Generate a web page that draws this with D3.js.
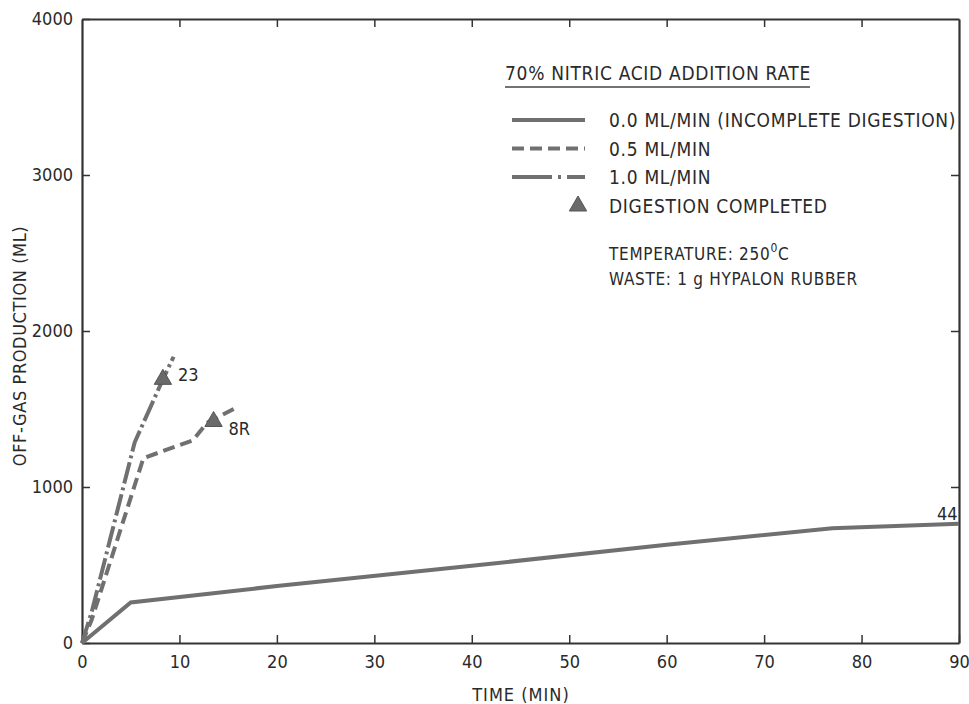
<!DOCTYPE html>
<html lang="en">
<head>
  <meta charset="UTF-8">
  <title>Off-gas production vs time</title>
  <style>
    body { margin: 0; background: #fff; }
    svg { display: block; background: #fff; }
    text {
      font-family: "Liberation Sans Narrow", "DejaVu Sans Condensed", sans-serif;
      fill: #2a2a2a;
    }
    .axis path, .axis line { stroke: #333; }
    .axis text { font-size: 18px; }
    .leg { font-size: 19px; letter-spacing: 0.7px; }
  </style>
</head>
<body>
  <svg id="chart" width="969" height="704"></svg>
  <script src="https://d3js.org/d3.v7.min.js"></script>
  <script>
    // values
    const xTicks = [0, 10, 20, 30, 40, 50, 60, 70, 80, 90]
    const yTicks = [0, 1000, 2000, 3000, 4000]

    const time00 = [0, 5, 20, 40, 60, 77, 90]
    const gas00 = [0, 260, 365, 495, 630, 735, 765]

    const time05 = [0, 1, 6.3, 11.4, 12.8, 15.7]
    const gas05 = [0, 150, 1185, 1300, 1410, 1505]

    const time10 = [0, 1, 5.4, 8.3, 9.4]
    const gas10 = [0, 200, 1285, 1690, 1835]

    const doneTime = [8.3, 13.5]
    const doneGas = [1690, 1420]
    const doneLabel = ['23', '8R']

    const endLabel = { t: 88.8, v: 790, text: '44' }

    const svg = d3.select('#chart')
    const x = d3.scaleLinear().domain([0, 90]).range([82, 959])
    const y = d3.scaleLinear().domain([0, 4000]).range([643, 19])

    const lineColor = '#707070'
    const fmt = d3.format('d')

    // frame + ticks (inward on all sides)
    svg.append('g').attr('class', 'axis')
      .attr('transform', `translate(0,${y(0)})`)
      .call(d3.axisBottom(x).tickValues(xTicks).tickFormat(fmt).tickSize(-8).tickSizeOuter(0).tickPadding(12))
      .call(g => g.select('.domain').attr('stroke-width', 2.2))
      .call(g => g.selectAll('.tick line').attr('stroke-width', 1.5))
      .call(g => g.selectAll('.tick text').attr('fill', '#2a2a2a'))

    svg.append('g').attr('class', 'axis')
      .attr('transform', `translate(${x(0)},0)`)
      .call(d3.axisLeft(y).tickValues(yTicks).tickFormat(fmt).tickSize(-8).tickSizeOuter(0).tickPadding(9))
      .call(g => g.select('.domain').attr('stroke-width', 2.2))
      .call(g => g.selectAll('.tick line').attr('stroke-width', 1.5))
      .call(g => g.selectAll('.tick text').attr('fill', '#2a2a2a'))

    svg.append('g').attr('class', 'axis')
      .attr('transform', `translate(0,${y(4000)})`)
      .call(d3.axisTop(x).tickValues(xTicks.slice(1, -1)).tickSize(-8).tickSizeOuter(0).tickFormat(''))
      .call(g => g.select('.domain').attr('stroke-width', 2.2))
      .call(g => g.selectAll('.tick line').attr('stroke-width', 1.5))

    svg.append('g').attr('class', 'axis')
      .attr('transform', `translate(${x(90)},0)`)
      .call(d3.axisRight(y).tickValues(yTicks.slice(1, -1)).tickSize(-8).tickSizeOuter(0).tickFormat(''))
      .call(g => g.select('.domain').attr('stroke-width', 2.2))
      .call(g => g.selectAll('.tick line').attr('stroke-width', 1.5))

    // axis titles
    svg.append('text')
      .attr('x', 521).attr('y', 701)
      .attr('text-anchor', 'middle')
      .attr('font-size', 18).attr('letter-spacing', 1)
      .text('TIME (MIN)')

    svg.append('text')
      .attr('transform', 'translate(26,346) rotate(-90)')
      .attr('text-anchor', 'middle')
      .attr('font-size', 18).attr('letter-spacing', 0.6)
      .text('OFF-GAS PRODUCTION (ML)')

    // curves
    const line = d3.line().x(d => x(d[0])).y(d => y(d[1]))
    const series = [
      { t: time00, v: gas00, dash: null },
      { t: time05, v: gas05, dash: '12,6' },
      { t: time10, v: gas10, dash: '22,4,3,4' }
    ]

    svg.selectAll('.curve')
      .data(series)
      .enter()
      .append('path')
      .attr('class', 'curve')
      .attr('d', d => line(d.t.map((t, i) => [t, d.v[i]])))
      .attr('fill', 'none')
      .attr('stroke', lineColor)
      .attr('stroke-width', 4)
      .attr('stroke-dasharray', d => d.dash)

    const tri = d3.symbol().type(d3.symbolTriangle).size(130)

    svg.selectAll('.done')
      .data(doneTime)
      .enter()
      .append('path')
      .attr('class', 'done')
      .attr('transform', (d, i) => `translate(${x(d)},${y(doneGas[i])})`)
      .attr('d', tri)
      .attr('fill', '#6a6a6a')
      .attr('stroke', '#555')
      .attr('stroke-width', 1)

    svg.selectAll('.done-label')
      .data(doneLabel)
      .enter()
      .append('text')
      .attr('class', 'done-label')
      .attr('x', (d, i) => x(doneTime[i]) + 15)
      .attr('y', (d, i) => y(doneGas[i]) + (i === 0 ? 2 : 14))
      .attr('font-size', 18)
      .text(d => d)

    svg.append('text')
      .attr('x', x(endLabel.t)).attr('y', y(endLabel.v))
      .attr('text-anchor', 'middle')
      .attr('font-size', 18)
      .text(endLabel.text)

    // legend
    const legend = svg.append('g')
    legend.append('text')
      .attr('class', 'leg')
      .attr('x', 505).attr('y', 80)
      .text('70% NITRIC ACID ADDITION RATE')
    legend.append('line')
      .attr('x1', 505).attr('x2', 810)
      .attr('y1', 87).attr('y2', 87)
      .attr('stroke', '#444').attr('stroke-width', 1.5)

    const legendNames = ['0.0 ML/MIN (INCOMPLETE DIGESTION)', '0.5 ML/MIN', '1.0 ML/MIN']
    const legendDash = [null, '12,6', '40,6,3,6']

    legendNames.forEach((name, i) => {
      const yy = 120 + i * 28.5
      legend.append('line')
        .attr('x1', 512).attr('x2', 585)
        .attr('y1', yy).attr('y2', yy)
        .attr('stroke', lineColor).attr('stroke-width', 4)
        .attr('stroke-dasharray', legendDash[i])
      legend.append('text')
        .attr('class', 'leg')
        .attr('x', 609).attr('y', yy + 7)
        .text(name)
    })

    legend.append('path')
      .attr('transform', 'translate(578,206)')
      .attr('d', tri)
      .attr('fill', '#6a6a6a')
      .attr('stroke', '#555')
    legend.append('text')
      .attr('class', 'leg')
      .attr('x', 609).attr('y', 213)
      .text('DIGESTION COMPLETED')

    const notes = legend.append('text')
      .attr('class', 'leg')
      .attr('x', 609).attr('y', 260)
      .attr('font-size', 17)
      .style('font-size', '17px')
    notes.append('tspan').text('TEMPERATURE:  250')
    notes.append('tspan').attr('dy', -8).style('font-size', '12px').text('0')
    notes.append('tspan').attr('dy', 8).text('C')

    legend.append('text')
      .attr('class', 'leg')
      .attr('x', 609).attr('y', 285)
      .style('font-size', '17px')
      .text('WASTE:  1 g HYPALON RUBBER')
  </script>
</body>
</html>
